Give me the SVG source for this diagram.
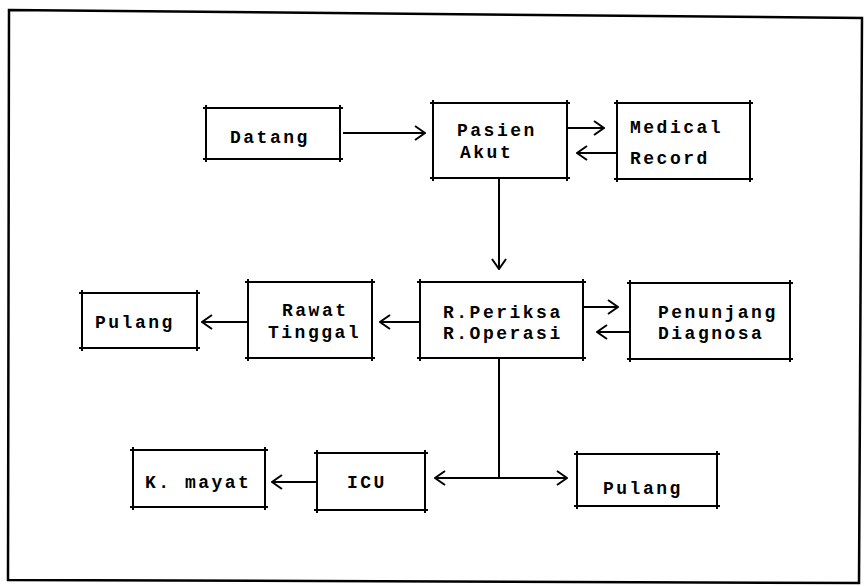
<svg xmlns="http://www.w3.org/2000/svg" width="865" height="586" viewBox="0 0 865 586">
<defs>
<style>
.box{fill:none;stroke:#000;stroke-width:2}
.con{fill:none;stroke:#000;stroke-width:2}
.t{font-family:"Liberation Mono","DejaVu Sans Mono",monospace;font-size:18px;font-weight:bold;letter-spacing:2.5px;fill:#000}
</style>
<marker id="ah" viewBox="0 0 12 16" refX="11" refY="8" markerWidth="12" markerHeight="16" markerUnits="userSpaceOnUse" orient="auto-start-reverse">
<path d="M1,1 L11,8 L1,15" fill="none" stroke="#000" stroke-width="2"/>
</marker>
</defs>
<rect width="865" height="586" fill="#fff"/>
<path d="M9,10 L862,18 L859,583 L8,580 Z" fill="none" stroke="#000" stroke-width="2.5"/>

<g id="connectors">
<path class="con" d="M343,133 L425,133" marker-end="url(#ah)"/>
<path class="con" d="M567,128 L604,128" marker-end="url(#ah)"/>
<path class="con" d="M617,153 L577,153" marker-end="url(#ah)"/>
<path class="con" d="M499,178 L499,269" marker-end="url(#ah)"/>
<path class="con" d="M583,307 L618,307" marker-end="url(#ah)"/>
<path class="con" d="M630,332 L597,332" marker-end="url(#ah)"/>
<path class="con" d="M420,322 L380,322" marker-end="url(#ah)"/>
<path class="con" d="M248,322 L202,322" marker-end="url(#ah)"/>
<path class="con" d="M499,358 L499,478"/>
<path class="con" d="M499,478 L435,478" marker-end="url(#ah)"/>
<path class="con" d="M499,478 L567,478" marker-end="url(#ah)"/>
<path class="con" d="M317,482 L272,482" marker-end="url(#ah)"/>
</g>

<g id="datang">
<path class="box" d="M203,108 H343 M203,159 H343 M206,105 V162 M340,105 V162"/>
<text class="t" x="230" y="143">Datang</text>
</g>
<g id="pasien-akut">
<path class="box" d="M430,103 H570 M430,178 H570 M433,100 V181 M567,100 V181"/>
<text class="t" x="457" y="136">Pasien</text>
<text class="t" x="460" y="158">Akut</text>
</g>
<g id="medical-record">
<path class="box" d="M614,103 H753 M614,179 H753 M617,100 V182 M750,100 V182"/>
<text class="t" x="630" y="133">Medical</text>
<text class="t" x="630" y="164">Record</text>
</g>
<g id="r-periksa">
<path class="box" d="M417,282 H586 M417,358 H586 M420,279 V361 M583,279 V361"/>
<text class="t" x="443" y="318">R.Periksa</text>
<text class="t" x="443" y="339">R.Operasi</text>
</g>
<g id="penunjang">
<path class="box" d="M627,283 H793 M627,359 H793 M630,280 V362 M790,280 V362"/>
<text class="t" x="658" y="318">Penunjang</text>
<text class="t" x="658" y="339">Diagnosa</text>
</g>
<g id="rawat-tinggal">
<path class="box" d="M245,282 H375 M245,358 H375 M248,279 V361 M372,279 V361"/>
<text class="t" x="282" y="316">Rawat</text>
<text class="t" x="268" y="338">Tinggal</text>
</g>
<g id="pulang-1">
<path class="box" d="M79,293 H200 M79,348 H200 M82,290 V351 M197,290 V351"/>
<text class="t" x="95" y="328">Pulang</text>
</g>
<g id="k-mayat">
<path class="box" d="M130,450 H268 M130,507 H268 M133,447 V510 M265,447 V510"/>
<text class="t" x="145" y="488">K. mayat</text>
</g>
<g id="icu">
<path class="box" d="M314,453 H428 M314,510 H428 M317,450 V513 M425,450 V513"/>
<text class="t" x="347" y="488">ICU</text>
</g>
<g id="pulang-2">
<path class="box" d="M574,454 H720 M574,506 H720 M577,451 V509 M717,451 V509"/>
<text class="t" x="603" y="494">Pulang</text>
</g>
</svg>
